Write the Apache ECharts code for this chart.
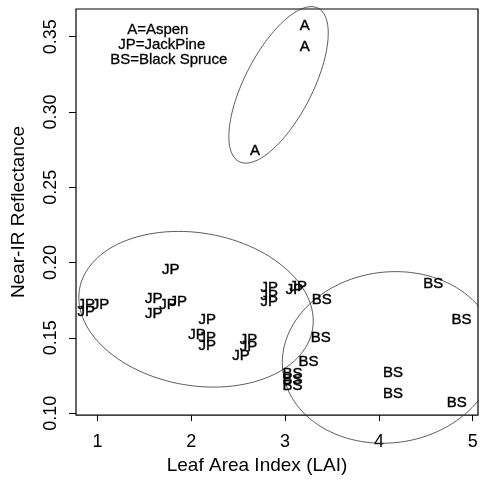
<!DOCTYPE html>
<html>
<head>
<meta charset="utf-8">
<script src="https://cdn.jsdelivr.net/npm/echarts@6/dist/echarts.min.js"></script>
<style>
  html, body { margin: 0; padding: 0; background: #fff; }
  #chart { width: 501px; height: 480px; }
</style>
</head>
<body>
<div id="chart"></div>
<script>
// leaf area index (x) and near-IR reflectance (y) per stand type
var aspenX = [3.21, 3.21, 2.68];
var aspenY = [0.357, 0.343, 0.274];

var jackPineX = [1.78, 0.88, 1.03, 0.88, 1.60, 1.60, 1.75, 1.86, 2.17, 2.06, 2.17, 2.17, 2.61, 2.61, 2.53, 2.83, 2.83, 2.83, 3.10, 3.14];
var jackPineY = [0.195, 0.172, 0.172, 0.167, 0.176, 0.166, 0.172, 0.174, 0.162, 0.152, 0.150, 0.145, 0.149, 0.144, 0.138, 0.183, 0.178, 0.174, 0.182, 0.184];

var spruceX = [4.58, 4.88, 3.39, 3.38, 3.25, 3.08, 3.08, 3.08, 4.15, 4.15, 4.83];
var spruceY = [0.186, 0.162, 0.175, 0.150, 0.134, 0.126, 0.122, 0.118, 0.127, 0.113, 0.107];

// ellipse: centre x, centre y, half width, half height, correlation
var aspenEllipse = [2.93, 0.318, 0.53, 0.052, 0.66];
var jackPineEllipse = [2.05, 0.169, 1.25, 0.0517, -0.15];
var spruceEllipse = [4.11, 0.137, 1.14, 0.057, 0.06];

var xTicks = [1, 2, 3, 4, 5];
var yTicks = [0.10, 0.15, 0.20, 0.25, 0.30, 0.35];
var legendLines = ['A=Aspen', 'JP=JackPine', 'BS=Black Spruce'];

function pairs(xs, ys) {
    return xs.map(function (x, i) { return [x, ys[i]]; });
}

function ellipse(p) {
    var pts = [];
    var s = Math.sqrt(1 - p[4] * p[4]);
    for (var i = 0; i <= 120; i++) {
        var t = i / 120 * Math.PI * 2;
        pts.push([p[0] + p[2] * Math.cos(t), p[1] + p[3] * (p[4] * Math.cos(t) + s * Math.sin(t))]);
    }
    return pts;
}

function textSeries(name, data) {
    return {
        name: name,
        type: 'scatter',
        data: data,
        symbolSize: 1,
        itemStyle: { color: 'rgba(255,255,255,0)', opacity: 1 },
        label: {
            show: true,
            position: 'inside',
            formatter: name,
            color: '#000',
            opacity: 1,
            textBorderColor: '#000',
            textBorderWidth: 0.4,
            fontSize: 15,
            fontFamily: 'Liberation Sans'
        },
        labelLayout: { hideOverlap: false },
        z: 3
    };
}

function ellipseSeries(p) {
    return {
        type: 'line',
        data: ellipse(p),
        showSymbol: false,
        clip: false,
        silent: true,
        lineStyle: { color: '#333', width: 0.8 },
        z: 2
    };
}

var myChart = echarts.init(document.getElementById('chart'));
myChart.setOption({
    animation: false,
    backgroundColor: '#fff',
    grid: {
        left: 76, right: 23, top: 9, bottom: 64,
        show: true, borderColor: '#000', borderWidth: 1.2
    },
    xAxis: {
        type: 'value',
        min: 0.77, max: 5.057,
        name: 'Leaf Area Index (LAI)',
        nameLocation: 'middle',
        nameGap: 34,
        nameTextStyle: { fontSize: 19, color: '#000', fontFamily: 'Liberation Sans', padding: [0, 40, 0, 0] },
        axisLine: { show: false },
        axisTick: { show: true, length: 6, lineStyle: { color: '#000' }, customValues: xTicks },
        axisLabel: { fontSize: 18, color: '#000', fontFamily: 'Liberation Sans', margin: 18, customValues: xTicks },
        splitLine: { show: false }
    },
    yAxis: {
        type: 'value',
        min: 0.0987, max: 0.3684,
        name: 'Near-IR Reflectance',
        nameLocation: 'middle',
        nameGap: 48,
        nameTextStyle: { fontSize: 19, color: '#000', fontFamily: 'Liberation Sans' },
        axisLine: { show: false },
        axisTick: { show: true, length: 7, lineStyle: { color: '#000' }, customValues: yTicks },
        axisLabel: {
            fontSize: 18, color: '#000', fontFamily: 'Liberation Sans', rotate: 90, margin: 16,
            customValues: yTicks,
            formatter: function (v) { return v.toFixed(2); }
        },
        splitLine: { show: false }
    },
    graphic: legendLines.map(function (t, i) {
        return {
            type: 'text',
            left: [127, 118, 110][i],
            top: 22 + i * 15,
            style: {
                text: t, fontSize: 15, fill: '#000', fontFamily: 'Liberation Sans',
                stroke: '#000', lineWidth: 0.3
            }
        };
    }),
    series: [
        ellipseSeries(aspenEllipse),
        ellipseSeries(jackPineEllipse),
        ellipseSeries(spruceEllipse),
        textSeries('A', pairs(aspenX, aspenY)),
        textSeries('JP', pairs(jackPineX, jackPineY)),
        textSeries('BS', pairs(spruceX, spruceY))
    ]
});
</script>
</body>
</html>
